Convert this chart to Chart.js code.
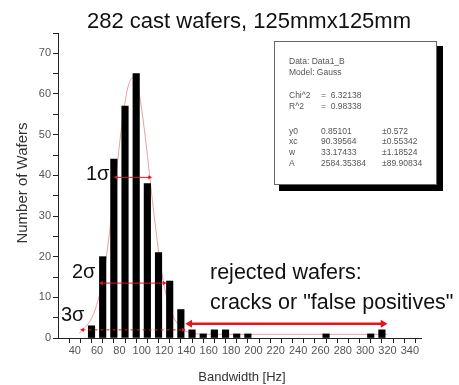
<!DOCTYPE html>
<html>
<head>
<meta charset="utf-8">
<script src="https://cdn.jsdelivr.net/npm/chart.js@4.4.1/dist/chart.umd.min.js"></script>
<style>
    html, body { margin: 0; padding: 0; background: #fff; }
    #wrap { width: 459px; height: 385px; }
</style>
</head>
<body>
<div id="wrap"><canvas id="chart" width="459" height="385"></canvas></div>
<script>
// histogram bins (centre, Hz) and wafer counts
const binCentres = [ 55, 65, 75, 85, 95, 105, 115, 125, 135, 145, 155, 165, 175, 185, 195, 265, 305, 315 ];
const waferCounts = [ 3, 20, 44, 57, 65, 38, 21, 14, 7, 2, 1, 2, 2, 1, 1, 1, 1, 2 ];

// Gauss fit curve
const fitX = [ 44, 47, 52, 57, 62, 67, 72, 77, 82, 87, 92, 97, 102, 107, 112, 117, 122, 127, 132, 137, 142, 150, 170, 320 ];
const fitY = [ 1.2, 2, 3.5, 6, 10.5, 17.5, 28, 40, 52, 61, 64, 61, 52, 40, 28, 17.5, 10.5, 6, 3.5, 2, 1.4, 1, 0.9, 0.9 ];

// sigma arrows: level, left end, right end
const sigmaLevels = [ 39.5, 13.5, 2 ];
const sigmaLeft   = [ 77, 64, 47 ];
const sigmaRight  = [ 107, 120, 137 ];
const sigmaLabels = [ '1σ', '2σ', '3σ' ];

// rejected range arrow
const rejectLevel = 3.5;
const rejectFrom  = 143;
const rejectTo    = 316;

// fit report
const fitInfo = [
    [ 'Data: Data1_B' ],
    [ 'Model: Gauss' ],
    [],
    [ 'Chi^2', '=  6.32138' ],
    [ 'R^2', '=  0.98338' ],
    [],
    [ 'y0', '0.85101', '±0.572' ],
    [ 'xc', '90.39564', '±0.55342' ],
    [ 'w', '33.17433', '±1.18524' ],
    [ 'A', '2584.35384', '±89.90834' ],
];

const RED  = '#e3161d';
const FONT = '"Liberation Sans", Arial, sans-serif';

const sigmaSets = sigmaLevels.map( ( lvl, i ) => ( {
    type: 'line',
    data: [ { x: sigmaLeft[ i ], y: lvl }, { x: sigmaRight[ i ], y: lvl } ],
    borderColor: RED,
    borderWidth: 1,
    borderDash: i === 2 ? [ 3, 3 ] : [],
    pointStyle: 'triangle',
    pointRadius: 2.5,
    pointRotation: [ 270, 90 ],
    pointBackgroundColor: RED,
    pointBorderColor: RED,
    pointBorderWidth: 0,
    order: 1,
} ) );

const annotations = {
    id: 'annotations',
    afterDraw( chart ) {
        const { ctx } = chart;
        ctx.save();
        ctx.fillStyle = '#111';
        ctx.textBaseline = 'middle';

        ctx.font = `22px ${ FONT }`;
        ctx.textAlign = 'center';
        ctx.fillText( '282 cast wafers, 125mmx125mm', 249, 22 );

        ctx.fillStyle = '#333';
        ctx.font = `13px ${ FONT }`;
        ctx.fillText( 'Bandwidth [Hz]', 242, 377 );

        ctx.save();
        ctx.translate( 23, 183 );
        ctx.rotate( -Math.PI / 2 );
        ctx.font = `15px ${ FONT }`;
        ctx.fillText( 'Number of Wafers', 0, 0 );
        ctx.restore();

        ctx.fillStyle = '#111';
        ctx.textAlign = 'left';
        ctx.font = `20px ${ FONT }`;
        const labelPos = [ [ 86, 174 ], [ 72, 272 ], [ 61, 315 ] ];
        sigmaLabels.forEach( ( t, i ) => ctx.fillText( t, labelPos[ i ][ 0 ], labelPos[ i ][ 1 ] ) );

        ctx.font = `21.5px ${ FONT }`;
        ctx.fillText( 'rejected wafers:', 210, 273 );
        ctx.fillText( 'cracks or "false positives"', 210, 303 );

        // fit report box with shadow
        ctx.fillStyle = '#000';
        ctx.fillRect( 279, 46, 164, 145 );
        ctx.fillStyle = '#fff';
        ctx.fillRect( 274, 41, 163, 144 );
        ctx.strokeStyle = '#666';
        ctx.lineWidth = 1;
        ctx.strokeRect( 274.5, 41.5, 162, 143 );

        ctx.fillStyle = '#555';
        ctx.font = `8.5px ${ FONT }`;
        const cols = [ 289, 321, 382 ];
        const rowY = [ 62, 73, 84, 96, 107, 119, 132, 142, 153, 164 ];
        fitInfo.forEach( ( row, r ) => {
            if ( row.length === 1 ) { ctx.fillText( row[ 0 ], cols[ 0 ], rowY[ r ] ); return; }
            row.forEach( ( cell, c ) => ctx.fillText( cell, cols[ c ], rowY[ r ] ) );
        } );
        ctx.restore();
    },
};

new Chart( document.getElementById( 'chart' ), {
    type: 'bar',
    data: {
        datasets: [
            {
                type: 'bar',
                data: binCentres.map( ( x, i ) => ( { x, y: waferCounts[ i ] } ) ),
                backgroundColor: '#000',
                barThickness: 6.5,
                order: 2,
            },
            {
                type: 'line',
                data: fitX.map( ( x, i ) => ( { x, y: fitY[ i ] } ) ),
                borderColor: '#e9a0a0',
                borderWidth: 1,
                pointRadius: 0,
                cubicInterpolationMode: 'monotone',
                order: 3,
            },
            ...sigmaSets,
            {
                type: 'line',
                data: [ { x: rejectFrom, y: rejectLevel }, { x: rejectTo, y: rejectLevel } ],
                borderColor: RED,
                borderWidth: 2.5,
                pointStyle: 'triangle',
                pointRadius: 4.5,
                pointRotation: [ 270, 90 ],
                pointBackgroundColor: RED,
                pointBorderColor: RED,
                pointBorderWidth: 0,
                order: 1,
            },
        ],
    },
    options: {
        responsive: false,
        animation: false,
        events: [],
        layout: { padding: { top: 33, right: 38, left: 0, bottom: 0 } },
        plugins: { legend: { display: false }, tooltip: { enabled: false } },
        scales: {
            x: {
                type: 'linear',
                min: 25,
                max: 350,
                offset: false,
                afterBuildTicks: ( s ) => { s.ticks = s.ticks.filter( ( t ) => t.value % 10 === 0 ); },
                afterFit: ( s ) => { s.height = 47; },
                ticks: {
                    stepSize: 10,
                    autoSkip: false,
                    maxRotation: 0,
                    padding: 1,
                    color: '#555',
                    font: { family: FONT, size: 11 },
                    callback: ( v ) => ( v % 20 === 0 && v >= 40 && v <= 340 ? v : '' ),
                },
                grid: { drawOnChartArea: false, drawTicks: true, tickLength: 5, tickColor: '#222' },
                border: { display: true, color: '#222', width: 1 },
            },
            y: {
                min: 0,
                max: 75,
                afterBuildTicks: ( s ) => { s.ticks = s.ticks.filter( ( t ) => t.value % 5 === 0 ); },
                afterFit: ( s ) => { s.width = 58; },
                ticks: {
                    stepSize: 5,
                    autoSkip: false,
                    padding: 2,
                    color: '#555',
                    font: { family: FONT, size: 11 },
                    callback: ( v ) => ( v % 10 === 0 && v <= 70 ? v : '' ),
                },
                grid: { drawOnChartArea: false, drawTicks: true, tickLength: 5, tickColor: '#222' },
                border: { display: true, color: '#222', width: 1 },
            },
        },
    },
    plugins: [ annotations ],
} );
</script>
</body>
</html>
